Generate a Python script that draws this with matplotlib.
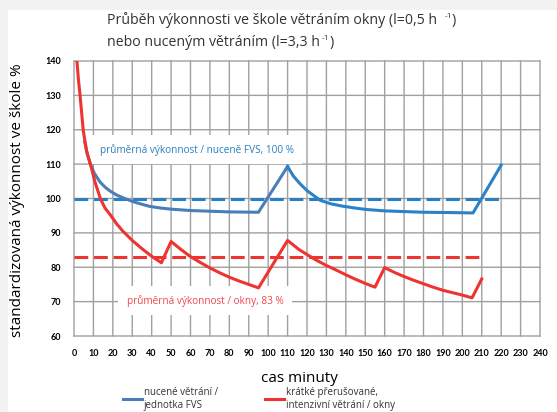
import matplotlib
matplotlib.use("Agg")
import matplotlib.pyplot as plt
from matplotlib.patches import Rectangle

# --- Data ---
blue_x = [5.5, 7, 8.6, 10.5, 13.4, 16, 18.5, 22, 27, 32, 39, 45, 50, 60, 70, 80, 95,
          110, 113, 116.4, 120, 126.7, 132, 138, 145, 150.7, 160, 170, 180, 195, 205.5, 220]
blue_y = [116.5, 112.5, 109.7, 107.3, 104.8, 103.3, 102.2, 101, 99.8, 98.8, 97.7, 97.2, 96.9,
          96.5, 96.3, 96.1, 96.0,
          109.3, 106.5, 104.3, 102.3, 99.5, 98.5, 97.8, 97.2, 96.8, 96.4, 96.2, 96.0, 95.9, 95.8,
          109.7]

red_x = [1.5, 2.3, 3.1, 4.8, 6.5, 8.6, 10.8, 13.7, 16, 18.9, 22, 25, 30, 35, 40, 45,
         50, 55, 60, 65, 70, 75, 80, 85, 90, 95,
         110, 116, 120, 125, 130, 133.5, 140, 145, 150, 155,
         160, 165, 170, 175, 180, 185, 190, 195, 200, 205, 210]
red_y = [140, 134.5, 130.1, 119.6, 113.8, 109.7, 104.8, 99.8, 97.2, 95.1, 92.6, 90.6, 87.8, 85.4,
         83.2, 81.3,
         87.5, 85.2, 83.1, 81.4, 79.8, 78.4, 77.1, 76.0, 75.0, 74.0,
         87.8, 85.1, 83.7, 82.0, 80.5, 79.6, 77.8, 76.5, 75.3, 74.2,
         79.9, 78.5, 77.3, 76.2, 75.2, 74.2, 73.3, 72.6, 71.9, 71.1, 76.6]

avg_fvs = 100
avg_fvs_end = 220
avg_okny = 83
avg_okny_end = 210

x_ticks = list(range(0, 241, 10))
y_ticks = list(range(60, 141, 10))

title_1 = "Průběh výkonnosti ve škole větráním okny (l=0,5 h"
title_2 = "nebo nuceným větráním (l=3,3 h"
label_fvs = "nucené větrání /\njednotka FVS"
label_okny = "krátké přerušované,\nintenzivní větrání / okny"
note_fvs = "průměrná výkonnost / nuceně FVS, 100 %"
note_okny = "průměrná výkonnost / okny, 83 %"

# --- Colours ---
BLUE_1 = "#4a7ebb"
BLUE_2 = "#2a83c8"
BLUE_DASH = "#2a7fc3"
RED = "#ee3430"
GRID = "#a0a0a0"

plt.rcParams["font.family"] = ["Open Sans", "DejaVu Sans"]

W, H = 557, 412
fig = plt.figure(figsize=(W / 100, H / 100), dpi=100)
fig.patch.set_facecolor("#f2f2f2")
fig.patches.append(Rectangle((8 / W, 0), 1, 1 - 10 / H, transform=fig.transFigure,
                             facecolor="white", edgecolor="none", zorder=-5))

ax = fig.add_axes([74 / W, 1 - 336 / H, (540 - 74) / W, (336 - 61) / H])
ax.set_xlim(0, 240)
ax.set_ylim(60, 140)
ax.set_xticks(x_ticks)
ax.set_yticks(y_ticks)
for s in ax.spines.values():
    s.set_visible(False)
ax.tick_params(length=0, labelsize=6.5, pad=9)
for lab in ax.get_xticklabels() + ax.get_yticklabels():
    lab.set_fontweight("bold")
    lab.set_family("Lato")

# grid (also serves as the frame), kept just under the data lines
for xv in x_ticks:
    ax.axvline(xv, color=GRID, lw=1.0, zorder=2.8, clip_on=False, snap=False)
for yv in y_ticks:
    ax.axhline(yv, color=GRID, lw=1.0, zorder=2.8, clip_on=False, snap=False)

# blue: average line + measured curve
split = blue_x.index(110)
ax.plot([0, avg_fvs_end], [avg_fvs, avg_fvs], color=BLUE_DASH, lw=2.2,
        dashes=(4.5, 1.9), zorder=3)
h_blue, = ax.plot(blue_x[:split + 1], blue_y[:split + 1], color=BLUE_1, lw=2.2,
                  zorder=4, solid_joinstyle="round")
ax.plot(blue_x[split:], blue_y[split:], color=BLUE_2, lw=2.2, zorder=4,
        solid_joinstyle="round")

# red: average line + measured curve
ax.plot([0, avg_okny_end], [avg_okny, avg_okny], color=RED, lw=2.2,
        dashes=(4.5, 1.9), zorder=3)
h_red, = ax.plot(red_x, red_y, color=RED, lw=2.2, zorder=4, solid_joinstyle="round")

# annotations with white boxes hiding grid
ax.text(13.4, 114.2, note_fvs, color="#2a7fbf", fontsize=7.2, va="center", ha="left",
        zorder=2.9, bbox=dict(facecolor="white", edgecolor="none", pad=6))
ax.text(67.5, 70.3, note_okny, color="#f0484a", fontsize=7.2, va="center", ha="center",
        zorder=2.9, bbox=dict(facecolor="white", edgecolor="none", pad=6))

# axis labels
fig.text(18 / W, 1 - 200 / H, "standardizovaná výkonnost ve škole %", rotation=90,
         ha="center", va="center", fontsize=11)
fig.text(299 / W, 1 - 378 / H, "cas minuty", ha="center", va="center", fontsize=11)


def piece_text(x, y, parts):
    """Draw a row of text pieces one after another (x, y in pixels)."""
    r = fig.canvas.get_renderer()
    for txt, size, dy in parts:
        t = fig.text(x / W, 1 - (y - dy) / H, txt, fontsize=size, ha="left",
                     va="baseline", color="#333333")
        x += t.get_window_extent(r).width


piece_text(107, 24, [(title_1, 10.2, 0), ("  ", 10.2, 0), ("-1", 6, 6), (")", 10.2, 0)])
piece_text(107, 46, [(title_2, 10.2, 0), (" ", 6, 0), ("-1", 6, 6), (")", 10.2, 0)])

leg = fig.legend([h_blue, h_red], [label_fvs, label_okny], ncol=2, frameon=False,
                 loc="upper left", bbox_to_anchor=(123 / W, 1 - 387 / H),
                 borderpad=0, borderaxespad=0, handlelength=2.0, handletextpad=0.15,
                 columnspacing=4.8, fontsize=7, labelspacing=0)
for line in leg.get_lines():
    line.set_linewidth(2.2)
for t in leg.get_texts():
    t.set_color("#333333")

fig.savefig("out.png", dpi=100)
